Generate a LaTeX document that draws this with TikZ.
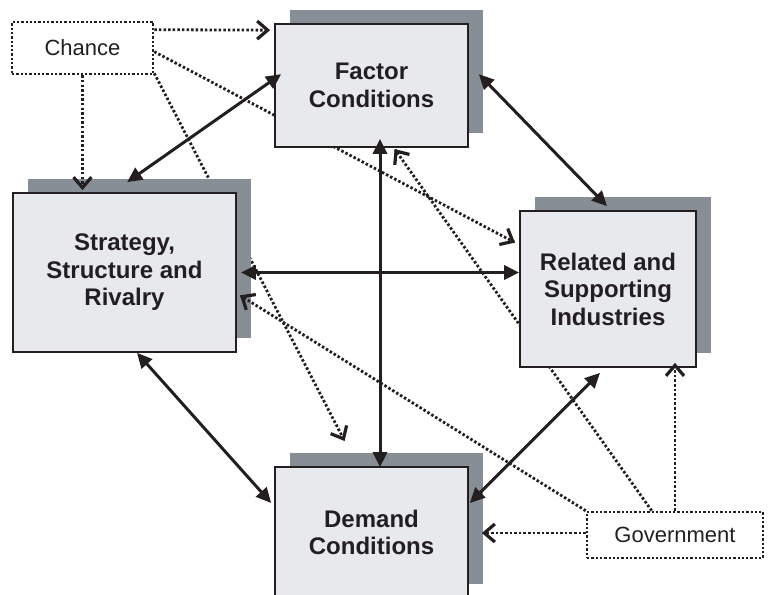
\documentclass[tikz,border=0pt]{standalone}
\usepackage{fontspec}
\setmainfont{Liberation Sans}
\usetikzlibrary{arrows.meta,calc,shadows,backgrounds}
\definecolor{ink}{HTML}{231F20}
\definecolor{boxfill}{HTML}{E8E9ED}
\definecolor{shade}{HTML}{878E95}
\newcommand\chevtip[2]{%
  \draw[chev] ($(#2)!12pt!(#1)!9pt!90:(#2)$) -- ($(#2)!1.5pt!(#1)$) -- ($(#2)!12pt!(#1)!9pt!-90:(#2)$);}
\begin{document}
\begin{tikzpicture}[x=1pt,y=-1pt,
  mainbox/.style={rectangle, draw=ink, line width=1.7pt, fill=boxfill, inner sep=0pt,
    align=center, text=ink, font=\fontsize{24}{27.5}\selectfont\bfseries,
    copy shadow={shadow xshift=15pt, shadow yshift=14pt, fill=shade, draw=none}},
  outbox/.style={rectangle, draw=ink, line width=2.6pt,
    dash pattern=on 2.3pt off 2pt, inner sep=0pt, text=ink,
    font=\fontsize{22}{26}\selectfont},
  biarrow/.style={draw=ink, line width=3pt,
    {Triangle[length=15pt,width=14pt]}-{Triangle[length=15pt,width=14pt]}},
  dotline/.style={draw=ink, line width=2.8pt, dash pattern=on 2.5pt off 2.1pt},
  chev/.style={draw=ink, line width=3.2pt, solid, line join=miter}
]
\useasboundingbox (0,0) rectangle (770,594);

% boxes
\node[mainbox, minimum width=193pt, minimum height=123pt] (factor) at (371.5,85.5) {Factor\\Conditions};
\node[mainbox, minimum width=223pt, minimum height=159pt] (strategy) at (124.5,272.5) {Strategy,\\Structure and\\Rivalry};
\node[mainbox, minimum width=176pt, minimum height=156pt] (related) at (608,289) {Related and\\Supporting\\Industries};
\node[mainbox, minimum width=193pt, minimum height=131pt] (demand) at (371.5,532.5) {Demand\\Conditions};
\node[outbox, minimum width=141pt, minimum height=52pt] (chance) at (82.5,48) {Chance};
\node[outbox, minimum width=176pt, minimum height=46pt] (gov) at (675,535) {Government};

% connector end points
\coordinate (cr1) at ($(chance.north east)+(0,31)$);
\coordinate (cr2) at ($(related.north west)+(-5,32)$);
\coordinate (cd1) at ($(chance.south east)+(0,-2)$);
\coordinate (cd2) at ($(demand.north west)+(70,-26)$);
\coordinate (gf1) at ($(gov.north west)+(66,0)$);
\coordinate (gf2) at ($(factor.south west)+(121,2)$);
\coordinate (cf1) at ($(chance.north east)+(0,9)$);
\coordinate (cf2) at ($(factor.north west)+(-5,7)$);
\coordinate (cs1) at (chance.south);
\coordinate (cs2) at ($(chance.south |- strategy.north)+(0,-3)$);
\coordinate (gs1) at (gov.north west);
\coordinate (gs2) at ($(strategy.south east)+(4,-57)$);
\coordinate (gr1) at (gov.north);
\coordinate (gr2) at ($(gov.north |- related.south)+(0,-4)$);
\coordinate (gd1) at ($(gov.west)+(0,-2)$);
\coordinate (gd2) at ($(gov.west -| demand.east)+(14,-2)$);

% dotted lines passing behind boxes
\begin{scope}[on background layer]
  \draw[dotline] (cr1) -- (cr2); \chevtip{cr1}{cr2}
  \draw[dotline] (cd1) -- (cd2); \chevtip{cd1}{cd2}
  \draw[dotline] (gf1) -- (gf2); \chevtip{gf1}{gf2}
\end{scope}

% dotted arrows on top
\draw[dotline] (cf1) -- (cf2); \chevtip{cf1}{cf2}
\draw[dotline] (cs1) -- (cs2); \chevtip{cs1}{cs2}
\draw[dotline] (gs1) -- (gs2); \chevtip{gs1}{gs2}
\draw[dotline] (gr1) -- (gr2); \chevtip{gr1}{gr2}
\draw[dotline] (gd1) -- (gd2); \chevtip{gd1}{gd2}

% solid double arrows
\draw[biarrow] ($(strategy.north west)+(115,-10)$) -- ($(factor.north west)+(7,51)$);
\draw[biarrow] ($(factor.north east)+(10,51)$) -- ($(related.north)+(-1,-4)$);
\draw[biarrow] ($(strategy.east)+(4,0)$) -- (strategy.east -| related.west);
\draw[biarrow] ($(factor.south)+(8.5,-9)$) -- ($(demand.north)+(8.5,1)$);
\draw[biarrow] ($(strategy.south)+(12.5,0)$) -- ($(demand.west)+(-3,-29.5)$);
\draw[biarrow] ($(related.south)+(-8,5)$) -- ($(demand.east)+(1,-29.5)$);
\end{tikzpicture}
\end{document}
